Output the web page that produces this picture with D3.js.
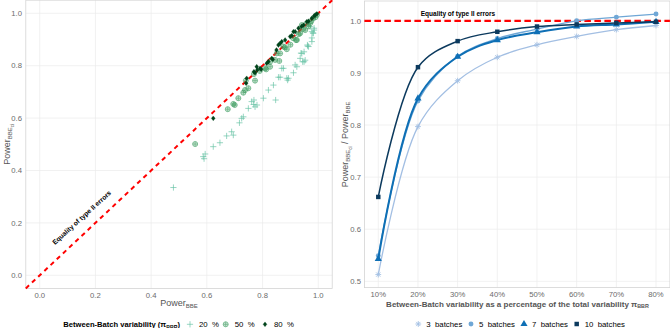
<!DOCTYPE html>
<html>
<head>
<meta charset="utf-8">
<script src="https://cdn.jsdelivr.net/npm/d3@7"></script>
<style>
  body { margin: 0; background: #fff; }
  text { font-family: "Liberation Sans", Arial, sans-serif; }
</style>
</head>
<body>
<div id="chart"></div>
<script>
// ---- left panel: Power BBE (x) vs Power BBE_ci (y), one list per between-batch share
var pts20 = [[0.48,0.335],[0.587,0.453],[0.594,0.463],[0.59,0.445],[0.623,0.491],[0.647,0.506],
  [0.671,0.532],[0.695,0.535],[0.689,0.548],[0.717,0.582],[0.731,0.605],[0.725,0.599],[0.749,0.637],
  [0.761,0.663],[0.769,0.669],[0.773,0.643],[0.768,0.652],[0.78,0.65],[0.803,0.676],[0.821,0.707],
  [0.839,0.726],[0.847,0.669],[0.857,0.756],[0.863,0.756],[0.869,0.79],[0.875,0.79],[0.887,0.752],
  [0.893,0.752],[0.89,0.745],[0.911,0.773],[0.917,0.803],[0.923,0.796],[0.938,0.848],[0.941,0.847],
  [0.949,0.815],[0.953,0.821],[0.944,0.815],[0.935,0.828],[0.949,0.853],[0.961,0.879],[0.962,0.875],
  [0.965,0.873],[0.977,0.892],[0.977,0.906],[0.977,0.93],[0.971,0.949],[0.981,0.925],[0.982,0.924],
  [0.985,0.936],[0.985,0.943]];
var pts50 = [[0.558,0.501],[0.675,0.634],[0.695,0.654],[0.7,0.65],[0.713,0.676],[0.731,0.697],
  [0.737,0.707],[0.749,0.714],[0.74,0.743],[0.773,0.743],[0.769,0.768],[0.79,0.78],[0.809,0.79],
  [0.813,0.786],[0.827,0.796],[0.827,0.815],[0.845,0.822],[0.86,0.818],[0.851,0.847],[0.863,0.847],
  [0.875,0.873],[0.887,0.863],[0.88,0.87],[0.9,0.88],[0.91,0.905],[0.92,0.898],[0.923,0.898],
  [0.93,0.92],[0.935,0.924],[0.945,0.94],[0.941,0.955],[0.953,0.936],[0.959,0.962],[0.965,0.95],
  [0.971,0.962],[0.975,0.97],[0.982,0.981],[0.99,0.985],[0.995,0.994]];
var pts80 = [[0.623,0.599],[0.741,0.733],[0.743,0.752],[0.769,0.777],[0.773,0.773],[0.779,0.796],
  [0.781,0.784],[0.791,0.79],[0.795,0.786],[0.815,0.809],[0.821,0.815],[0.833,0.828],[0.837,0.824],
  [0.85,0.86],[0.857,0.879],[0.863,0.885],[0.869,0.892],[0.881,0.898],[0.899,0.911],[0.905,0.915],
  [0.911,0.93],[0.917,0.93],[0.929,0.943],[0.94,0.95],[0.947,0.955],[0.959,0.968],[0.965,0.97],
  [0.977,0.981],[0.985,0.99],[0.989,0.993],[0.995,0.998]];
var powerTicks = [0, 0.2, 0.4, 0.6, 0.8, 1.0];

// ---- right panel: ratio Power BBE_ci / Power BBE by between-batch share
var bbrShare = [10, 20, 30, 40, 50, 60, 70, 80];
var ratio3  = [0.513, 0.797, 0.885, 0.930, 0.954, 0.970, 0.983, 0.991];
var ratio5  = [0.549, 0.846, 0.932, 0.966, 0.984, 1.000, 1.007, 1.013];
var ratio7  = [0.543, 0.851, 0.931, 0.963, 0.978, 0.989, 0.993, 0.998];
var ratio10 = [0.662, 0.911, 0.961, 0.979, 0.989, 0.993, 0.996, 0.998];
var ratioTicks = [0.5, 0.6, 0.7, 0.8, 0.9, 1.0];

var W = 670, H = 328;
var svg = d3.select("#chart").append("svg")
    .attr("width", W)
    .attr("height", H);

var gridCol = "#ebebeb", borderCol = "#d4d4d4", tickCol = "#6b6b6b", titleCol = "#555";

// simple stroked / filled glyphs close to ggplot shapes
function glyph(kind, s){
    if (kind == "plus") return "M" + (-s) + ",0H" + s + "M0," + (-s) + "V" + s;
    if (kind == "circleplus") return "M" + s + ",0A" + s + "," + s + " 0 1,1 " + (-s) + ",0A" + s + "," + s + " 0 1,1 " + s + ",0Z" +
        "M" + (-s) + ",0H" + s + "M0," + (-s) + "V" + s;
    if (kind == "diamond") return "M0," + (-s) + "L" + (s*0.8) + ",0L0," + s + "L" + (-s*0.8) + ",0Z";
    if (kind == "asterisk") {
        var d = s * 0.72;
        return "M" + (-s) + ",0H" + s + "M0," + (-s) + "V" + s +
            "M" + (-d) + "," + (-d) + "L" + d + "," + d + "M" + (-d) + "," + d + "L" + d + "," + (-d);
    }
    if (kind == "circle") return d3.symbol(d3.symbolCircle, s)();
    if (kind == "triangle") return d3.symbol(d3.symbolTriangle, s)();
    if (kind == "square") return d3.symbol(d3.symbolSquare, s)();
}

function panelFrame(g, x, y, xt, yt){
    g.selectAll(".vg").data(xt).enter().append("line")
        .attr("x1", function(d){ return x(d); }).attr("x2", function(d){ return x(d); })
        .attr("y1", y.range()[0]).attr("y2", y.range()[1])
        .attr("stroke", gridCol).attr("stroke-width", 0.7);
    g.selectAll(".hg").data(yt).enter().append("line")
        .attr("y1", function(d){ return y(d); }).attr("y2", function(d){ return y(d); })
        .attr("x1", x.range()[0]).attr("x2", x.range()[1])
        .attr("stroke", gridCol).attr("stroke-width", 0.7);
    g.append("rect")
        .attr("x", x.range()[0]).attr("y", y.range()[1])
        .attr("width", x.range()[1] - x.range()[0])
        .attr("height", y.range()[0] - y.range()[1])
        .attr("fill", "none").attr("stroke", borderCol).attr("stroke-width", 0.8);
}

/* ================= left panel ================= */
var xL = d3.scaleLinear().domain([-0.05, 1.05]).range([25.8, 332.2]);
var yL = d3.scaleLinear().domain([-0.05, 1.05]).range([288.4, 0.2]);
var gL = svg.append("g");
panelFrame(gL, xL, yL, powerTicks, powerTicks);

gL.selectAll(".xt").data(powerTicks).enter().append("text")
    .attr("x", function(d){ return xL(d); }).attr("y", 298)
    .attr("text-anchor", "middle").attr("font-size", 7.7).attr("fill", tickCol)
    .text(function(d){ return d3.format(".1f")(d); });
gL.selectAll(".yt").data(powerTicks).enter().append("text")
    .attr("x", 22).attr("y", function(d){ return yL(d) + 2.7; })
    .attr("text-anchor", "end").attr("font-size", 7.7).attr("fill", tickCol)
    .text(function(d){ return d3.format(".1f")(d); });

// identity line
gL.append("line")
    .attr("x1", xL(-0.05)).attr("y1", yL(-0.05))
    .attr("x2", xL(1.05)).attr("y2", yL(1.05))
    .attr("stroke", "#ff0000").attr("stroke-width", 2)
    .attr("stroke-dasharray", "4.5,4");

var groups = [
    {pts: pts20, kind: "plus", size: 3.1, col: "#66c2a4", op: 0.75, fill: "none", sw: 0.9},
    {pts: pts50, kind: "circleplus", size: 2.5, col: "#3a9b5d", op: 0.7, fill: "rgba(58,155,93,0.35)", sw: 0.9},
    {pts: pts80, kind: "diamond", size: 2.4, col: "#00441b", op: 1, fill: "#00441b", sw: 0.3}
];
groups.forEach(function(grp){
    gL.append("g").selectAll("path").data(grp.pts).enter().append("path")
        .attr("transform", function(d){ return "translate(" + xL(d[0]) + "," + yL(d[1]) + ")"; })
        .attr("d", glyph(grp.kind, grp.size))
        .attr("fill", grp.fill)
        .attr("stroke", grp.col)
        .attr("stroke-width", grp.sw)
        .attr("opacity", grp.op);
});

gL.append("text")
    .attr("transform", "translate(81.7,217.5) rotate(-42.3)")
    .attr("text-anchor", "middle").attr("font-size", 6.7).attr("font-weight", "bold")
    .attr("dy", "0.35em")
    .text("Equality of type II errors");

// axis titles
var xtL = gL.append("text").attr("x", xL(0.5)).attr("y", 306)
    .attr("text-anchor", "middle").attr("font-size", 9).attr("fill", titleCol);
xtL.append("tspan").text("Power");
xtL.append("tspan").attr("font-size", 6).attr("dy", 2).text("BBE");

var ytL = gL.append("text").attr("transform", "translate(10," + yL(0.5) + ") rotate(-90)")
    .attr("text-anchor", "middle").attr("font-size", 9).attr("fill", titleCol);
ytL.append("tspan").text("Power");
ytL.append("tspan").attr("font-size", 6).attr("dy", 2).text("BBE");
ytL.append("tspan").attr("font-size", 4.5).attr("dy", 1.5).text("ci");

// legend
var legL = gL.append("g");
var lt = legL.append("text").attr("x", 63.3).attr("y", 327)
    .attr("font-size", 7.6).attr("font-weight", "bold");
lt.append("tspan").text("Between-Batch variability (\u03c0");
lt.append("tspan").attr("font-size", 5.2).attr("dy", 1.5).text("BBR");
lt.append("tspan").attr("dy", -1.5).text(")");
var legItems = [{x: 190, lab: "20  %", g: groups[0]}, {x: 225.7, lab: "50  %", g: groups[1]}, {x: 265, lab: "80  %", g: groups[2]}];
legItems.forEach(function(it){
    legL.append("path")
        .attr("transform", "translate(" + it.x + ",324.3)")
        .attr("d", glyph(it.g.kind, it.g.size))
        .attr("fill", it.g.fill).attr("stroke", it.g.col)
        .attr("stroke-width", it.g.sw).attr("opacity", it.g.op);
    legL.append("text").attr("x", it.x + 9).attr("y", 327.2)
        .attr("font-size", 7.8).attr("xml:space", "preserve").text(it.lab);
});

/* ================= right panel ================= */
var xR = d3.scaleLinear().domain([6.5, 83.5]).range([364.4, 669.9]);
var yR = d3.scaleLinear().domain([0.488, 1.038]).range([287.6, 1.0]);
var gR = svg.append("g");
panelFrame(gR, xR, yR, bbrShare, ratioTicks);

gR.selectAll(".xt").data(bbrShare).enter().append("text")
    .attr("x", function(d){ return xR(d); }).attr("y", 297)
    .attr("text-anchor", "middle").attr("font-size", 7.7).attr("fill", tickCol)
    .text(function(d){ return d + "%"; });
gR.selectAll(".yt").data(ratioTicks).enter().append("text")
    .attr("x", 361).attr("y", function(d){ return yR(d) + 2.7; })
    .attr("text-anchor", "end").attr("font-size", 7.7).attr("fill", tickCol)
    .text(function(d){ return d3.format(".1f")(d); });

gR.append("line")
    .attr("x1", xR.range()[0]).attr("x2", xR.range()[1])
    .attr("y1", yR(1)).attr("y2", yR(1))
    .attr("stroke", "#ff0000").attr("stroke-width", 2.2)
    .attr("stroke-dasharray", "6.5,3.5");

gR.append("text").attr("x", 458).attr("y", 16.3)
    .attr("text-anchor", "middle").attr("font-size", 6.5).attr("font-weight", "bold")
    .text("Equality of type II errors");

var series = [
    {vals: ratio3, lab: "3  batches", kind: "asterisk", size: 2.9, col: "#a3bfe3", lw: 1.3, lx: 418.3},
    {vals: ratio5, lab: "5  batches", kind: "circle", size: 19, col: "#6fa7d6", lw: 1.3, lx: 471},
    {vals: ratio7, lab: "7  batches", kind: "triangle", size: 22, col: "#0e6fb5", lw: 2, lx: 524},
    {vals: ratio10, lab: "10  batches", kind: "square", size: 20, col: "#0c3a5e", lw: 1.5, lx: 576.7}
];

var line = d3.line()
    .x(function(d, i){ return xR(bbrShare[i]); })
    .y(function(d){ return yR(d); })
    .curve(d3.curveCatmullRom.alpha(0.5));

series.forEach(function(s){
    var sg = gR.append("g");
    sg.append("path").datum(s.vals)
        .attr("d", line)
        .attr("fill", "none").attr("stroke", s.col).attr("stroke-width", s.lw);
    sg.selectAll("path.pt").data(s.vals).enter().append("path")
        .attr("class", "pt")
        .attr("transform", function(d, i){ return "translate(" + xR(bbrShare[i]) + "," + yR(d) + ")"; })
        .attr("d", glyph(s.kind, s.size))
        .attr("fill", s.kind == "asterisk" ? "none" : s.col)
        .attr("stroke", s.col).attr("stroke-width", s.kind == "asterisk" ? 0.9 : 0);
});

var xtR = gR.append("text").attr("x", 517.5).attr("y", 306.5)
    .attr("text-anchor", "middle").attr("font-size", 8).attr("font-weight", "bold").attr("fill", titleCol);
xtR.append("tspan").text("Between-Batch variability as a percentage of the total variability \u03c0");
xtR.append("tspan").attr("font-size", 5.4).attr("dy", 1.5).text("BBR");

var ytR = gR.append("text").attr("transform", "translate(348," + yR(0.763) + ") rotate(-90)")
    .attr("text-anchor", "middle").attr("font-size", 9).attr("fill", titleCol);
ytR.append("tspan").text("Power");
ytR.append("tspan").attr("font-size", 6).attr("dy", 2).text("BBE");
ytR.append("tspan").attr("font-size", 4.5).attr("dy", 1.5).text("ci");
ytR.append("tspan").attr("dy", -3.5).text(" / Power");
ytR.append("tspan").attr("font-size", 6).attr("dy", 2).text("BBE");

series.forEach(function(s){
    gR.append("path")
        .attr("transform", "translate(" + s.lx + ",324)")
        .attr("d", glyph(s.kind, s.size))
        .attr("fill", s.kind == "asterisk" ? "none" : s.col)
        .attr("stroke", s.col).attr("stroke-width", s.kind == "asterisk" ? 0.9 : 0);
    gR.append("text").attr("x", s.lx + 8).attr("y", 327)
        .attr("font-size", 7.8).attr("xml:space", "preserve").text(s.lab);
});
</script>
</body>
</html>
